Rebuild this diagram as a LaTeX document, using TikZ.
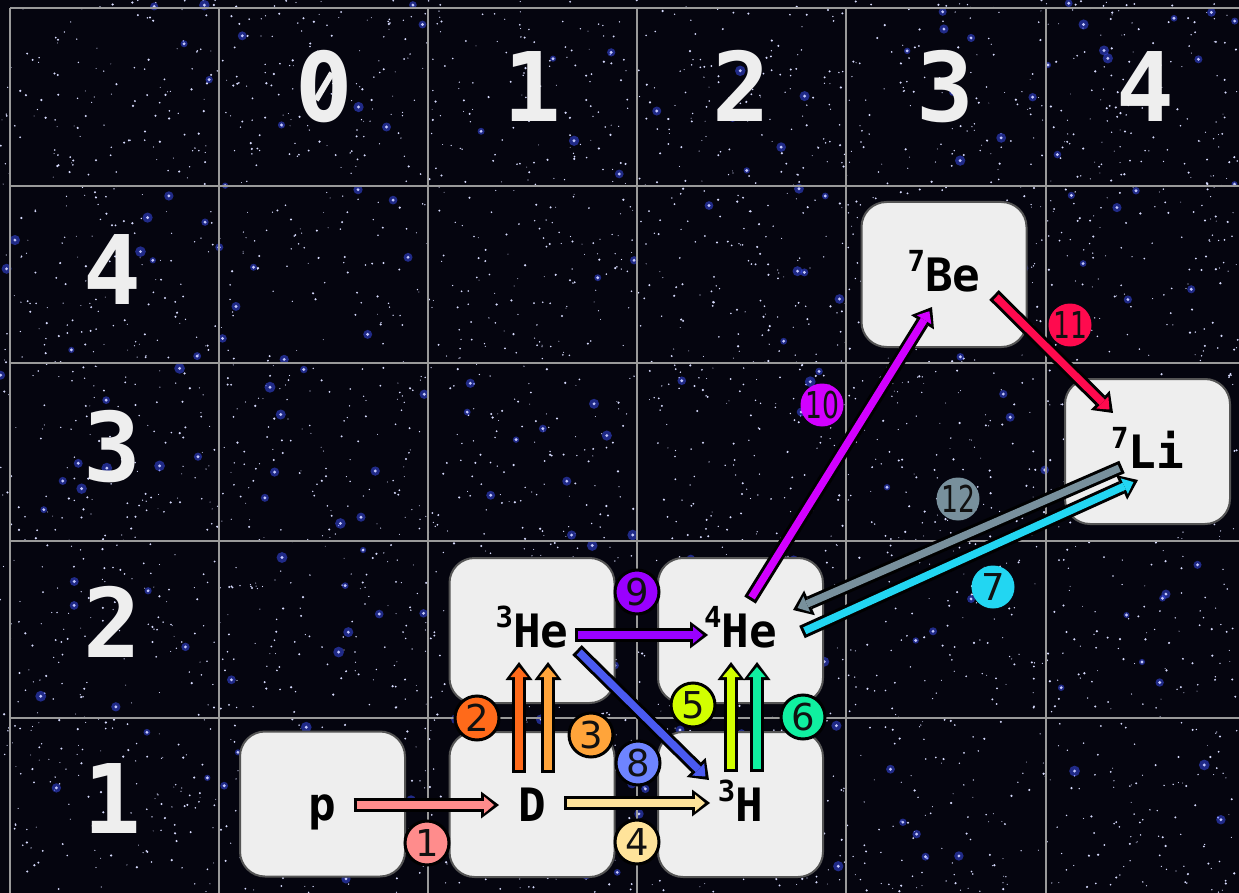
\documentclass[tikz,border=0pt]{standalone}
\usepackage{fontspec}
\usepackage{graphicx}
\setmainfont{DejaVu Sans}
\newfontfamily\monofont{DejaVu Sans Mono}
\usetikzlibrary{arrows.meta,calc}
\definecolor{sky}{HTML}{05050F}
\definecolor{gridc}{HTML}{9A9A9A}
\definecolor{boxfill}{HTML}{EEEEEE}
\definecolor{boxline}{HTML}{555555}
\definecolor{headc}{HTML}{EEEEEE}
\definecolor{starblue}{HTML}{3C50FF}
\definecolor{c1}{HTML}{FF8C8C}
\definecolor{c2}{HTML}{FF6A1A}
\definecolor{c3}{HTML}{FFA43A}
\definecolor{c4}{HTML}{FFE39A}
\definecolor{c5}{HTML}{D2FF00}
\definecolor{c6}{HTML}{10F0A0}
\definecolor{c7}{HTML}{22D6F2}
\definecolor{c8a}{HTML}{4A5AF0}
\definecolor{c8}{HTML}{6E84FF}
\definecolor{c9}{HTML}{9A00FF}
\definecolor{c10}{HTML}{D200FF}
\definecolor{c11}{HTML}{FF0A4E}
\definecolor{c12}{HTML}{78909C}
\definecolor{numc}{HTML}{111111}
\newcommand\iso[2]{\raisebox{20pt}{\fontsize{29}{29}\selectfont #1}#2}
\newcommand\narrownum[1]{\scalebox{0.72}[1]{#1}}
\tikzset{
  nucbox/.style={rectangle, rounded corners=25pt, fill=boxfill, draw=boxline, line width=2pt,
    minimum width=165pt, minimum height=145pt, inner sep=0pt,
    text height=33pt, text depth=0pt,
    font=\monofont\bfseries\fontsize{46}{46}\selectfont, text=black},
  head/.style={text=headc, inner sep=0pt, text height=70pt, text depth=0pt,
    font=\monofont\bfseries\fontsize{96}{96}\selectfont},
  flow/.style={line width=7.5pt, draw=#1, shorten <=3pt, shorten >=5pt,
    -{Triangle[length=10pt,width=17pt,line width=0pt]},
    preaction={draw=black, line width=13.5pt, shorten <=0pt, shorten >=0pt,
      -{Triangle[length=18pt,width=27pt,line width=0pt]}}},
  lbl/.style={circle, draw=black, line width=3pt, fill=#1, minimum size=44pt, inner sep=0pt,
    text height=26pt, text depth=0pt, text=numc, font=\fontsize{37}{37}\selectfont},
  lbln/.style={circle, fill=#1, minimum size=43pt, inner sep=0pt,
    text height=26pt, text depth=0pt, text=numc, font=\fontsize{37}{37}\selectfont},
}
\begin{document}
\begin{tikzpicture}[x=1pt,y=-1pt]
\useasboundingbox (0,0) rectangle (1239,893);
\fill[sky] (0,0) rectangle (1239,893);
% stars
\pgfmathsetseed{4242}
\foreach \i in {1,...,3600}{
  \pgfmathsetmacro\sx{rnd*1239}
  \pgfmathsetmacro\sy{rnd*893}
  \pgfmathsetmacro\sr{0.45+rnd*0.8}
  \fill[white!80!starblue] (\sx,\sy) circle (\sr);
}
\foreach \i in {1,...,200}{
  \pgfmathsetmacro\sx{rnd*1239}
  \pgfmathsetmacro\sy{rnd*893}
  \pgfmathsetmacro\sr{3+rnd*2.5}
  \fill[starblue, opacity=0.5] (\sx,\sy) circle (\sr);
  \fill[starblue!30!white] (\sx,\sy) circle (1.6);
}
% grid
\foreach \gy in {8,186,363,541,718}{
  \draw[gridc, line width=2pt] (10,\gy) -- (1239,\gy);
}
\foreach \gx in {10,219,428,637,846,1046}{
  \draw[gridc, line width=2pt] (\gx,8) -- (\gx,893);
}
% headers
\node[head, font=\bfseries\fontsize{96}{96}\selectfont] (col0) at (324,87) {\scalebox{0.8}[1]{0}};
\draw[headc, line width=6pt] ($(col0)+(-8,13)$) -- ($(col0)+(8,-14)$);
\node[head] (col1) at (532,87) {1};
\node[head] (col2) at (741,87) {2};
\node[head] (col3) at (945,87) {3};
\node[head] (col4) at (1145,87) {4};
\node[head] (row4) at (112,270) {4};
\node[head] (row3) at (112,446) {3};
\node[head] (row2) at (112,622) {2};
\node[head] (row1) at (112,798) {1};
% nuclide boxes
\node[nucbox] (p)   at (322.5,804)   {p};
\node[nucbox] (D)   at (532,804.5)   {D};
\node[nucbox] (H3)  at (740.5,804.5) {\iso{3}{H}};
\node[nucbox] (He3) at (532,630.5)   {\iso{3}{He}};
\node[nucbox] (He4) at (740.5,630.5) {\iso{4}{He}};
\node[nucbox] (Be7) at (944,274.5)   {\iso{7}{Be}};
\node[nucbox] (Li7) at (1147.5,451.5) {\iso{7}{Li}};
% reactions
\draw[flow=c1]  ($(p)+(31,1)$)      -- ($(D)+(-33,0.5)$);
\draw[flow=c2]  ($(D)+(-13,-32)$)   -- ($(He3)+(-13,31.5)$);
\draw[flow=c3]  ($(D)+(16,-32)$)    -- ($(He3)+(16,31.5)$);
\draw[flow=c4]  ($(D)+(32,-1.5)$)   -- ($(H3)+(-30.5,-1.5)$);
\draw[flow=c5]  ($(H3)+(-9.5,-32.5)$) -- ($(He4)+(-9.5,31.5)$);
\draw[flow=c6]  ($(H3)+(16.5,-32.5)$) -- ($(He4)+(16.5,31.5)$);
\draw[flow=c8a] ($(He3)+(45,19.5)$) -- ($(H3)+(-31.5,-24.5)$);
\draw[flow=c9]  ($(He3)+(43,4.5)$)  -- ($(He4)+(-32.5,4.5)$);
\draw[flow=c10] ($(He4)+(9.5,-30.5)$) -- ($(Be7)+(-12,32.5)$);
\draw[flow=c11] ($(Be7)+(50,20.5)$) -- ($(Li7)+(-34.5,-38.5)$);
\draw[flow=c12] ($(Li7)+(-25.5,15.5)$) -- ($(He4)+(52.5,-20.5)$);
\draw[flow=c7]  ($(He4)+(61.5,1.5)$) -- ($(Li7)+(-9.5,28.5)$);
% labels
\node[lbl=c1] (n1) at (427,843) {1};
\node[lbl=c2] (n2) at (477,718) {2};
\node[lbl=c3] (n3) at (591,735) {3};
\node[lbl=c4] (n4) at (637,842) {4};
\node[lbl=c5] (n5) at (693,705) {5};
\node[lbl=c6] (n6) at (803,717) {6};
\node[lbln=c7] (n7) at (993,587) {7};
\node[lbl=c8] (n8) at (638,763) {8};
\node[lbl=c9] (n9) at (637,592) {9};
\node[lbln=c10] (n10) at (822,405) {\narrownum{10}};
\node[lbln=c11] (n11) at (1070,325) {\narrownum{11}};
\node[lbln=c12] (n12) at (958,499) {\narrownum{12}};
\end{tikzpicture}
\end{document}
